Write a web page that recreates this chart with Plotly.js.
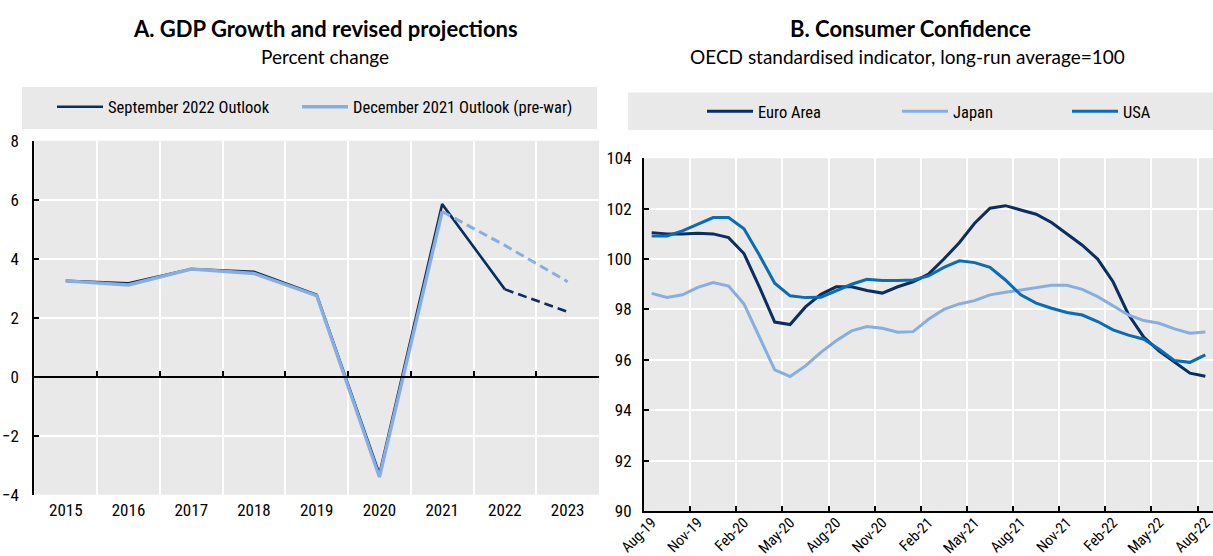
<!DOCTYPE html>
<html>
<head>
<meta charset="utf-8">
<script src="https://cdn.plot.ly/plotly-3.0.1.min.js"></script>
<style>
  html, body { margin: 0; padding: 0; background: #ffffff; }
  #chart { width: 1213px; height: 556px; }
</style>
</head>
<body>
<div id="chart"></div>
<script>
// ---------- Data: Panel A (GDP growth, percent change) ----------
const years = ['2015', '2016', '2017', '2018', '2019', '2020', '2021', '2022', '2023'];
const gdpSep2022 = [3.25, 3.17, 3.65, 3.56, 2.78, -3.3, 5.85, 2.96, 2.2];
const gdpDec2021 = [3.25, 3.11, 3.65, 3.5, 2.75, -3.4, 5.6, 4.45, 3.22];
const sep2022LastOutturn = '2022';
const dec2021LastOutturn = '2021';
const gdpSeriesNames = ['September 2022 Outlook', 'December 2021 Outlook (pre-war)'];

// ---------- Data: Panel B (Consumer confidence) ----------
const months = ['Aug-19','Sep-19','Oct-19','Nov-19','Dec-19','Jan-20','Feb-20','Mar-20','Apr-20','May-20',
  'Jun-20','Jul-20','Aug-20','Sep-20','Oct-20','Nov-20','Dec-20','Jan-21','Feb-21','Mar-21',
  'Apr-21','May-21','Jun-21','Jul-21','Aug-21','Sep-21','Oct-21','Nov-21','Dec-21','Jan-22',
  'Feb-22','Mar-22','Apr-22','May-22','Jun-22','Jul-22','Aug-22'];
const euroArea = [101.05, 101.0, 101.0, 101.02, 101.0, 100.85, 100.22, 98.9, 97.5, 97.4,
  98.1, 98.6, 98.9, 98.9, 98.75, 98.65, 98.9, 99.1, 99.4, 100.0,
  100.65, 101.42, 102.02, 102.12, 101.95, 101.78, 101.45, 101.0, 100.55, 100.0,
  99.1, 97.8, 96.9, 96.35, 95.9, 95.47, 95.35];
const japan = [98.64, 98.48, 98.58, 98.88, 99.07, 98.93, 98.22, 96.92, 95.6, 95.34,
  95.76, 96.3, 96.76, 97.15, 97.32, 97.25, 97.1, 97.12, 97.61, 98.0,
  98.22, 98.35, 98.58, 98.68, 98.78, 98.88, 98.96, 98.96, 98.8, 98.51,
  98.14, 97.78, 97.56, 97.45, 97.23, 97.06, 97.11];
const usa = [100.92, 100.92, 101.12, 101.39, 101.65, 101.65, 101.2, 100.16, 99.04, 98.54,
  98.47, 98.48, 98.74, 99.0, 99.2, 99.15, 99.15, 99.17, 99.33, 99.67,
  99.93, 99.86, 99.67, 99.17, 98.58, 98.25, 98.05, 97.88, 97.78, 97.52,
  97.19, 96.98, 96.82, 96.42, 95.97, 95.9, 96.2];
const confidenceNames = ['Euro Area', 'Japan', 'USA'];
const longRunAverage = 100;
const monthTickStep = 3;

// ---------- Styling ----------
const W = 1213, H = 556;
const px = v => v / W;            // x pixel -> paper
const py = v => 1 - v / H;        // y pixel -> paper
const DARK = '#0B2D62';
const LIGHT = '#88AEE0';
const MID = '#0A6CB5';
const BG = '#E9E9E9';
const NARROW = '"Liberation Sans Narrow", "Arial Narrow", "Roboto Condensed", Roboto, sans-serif';
const TITLEF = 'Lato, "Open Sans", sans-serif';
const tickFont = { family: NARROW, size: 17, color: '#000000' };

function solidPart(vals, cats, lastCat) {
  const k = cats.indexOf(lastCat);
  return vals.map((v, i) => (i <= k ? v : null));
}
function dashedPart(vals, cats, lastCat) {
  const k = cats.indexOf(lastCat);
  return vals.map((v, i) => (i >= k ? v : null));
}

const traces = [
  // Panel A
  { x: years, y: solidPart(gdpSep2022, years, sep2022LastOutturn), name: gdpSeriesNames[0],
    type: 'scatter', mode: 'lines', line: { color: DARK, width: 2.6 }, xaxis: 'x', yaxis: 'y',
    legend: 'legend', hoverinfo: 'skip' },
  { x: years, y: dashedPart(gdpSep2022, years, sep2022LastOutturn), name: gdpSeriesNames[0],
    type: 'scatter', mode: 'lines', line: { color: DARK, width: 2.6, dash: '9px,5px' }, xaxis: 'x', yaxis: 'y',
    showlegend: false, hoverinfo: 'skip' },
  { x: years, y: solidPart(gdpDec2021, years, dec2021LastOutturn), name: gdpSeriesNames[1],
    type: 'scatter', mode: 'lines', line: { color: LIGHT, width: 3.4 }, xaxis: 'x', yaxis: 'y',
    legend: 'legend2', hoverinfo: 'skip' },
  { x: years, y: dashedPart(gdpDec2021, years, dec2021LastOutturn), name: gdpSeriesNames[1],
    type: 'scatter', mode: 'lines', line: { color: LIGHT, width: 3.0, dash: '9px,5px' }, xaxis: 'x', yaxis: 'y',
    showlegend: false, hoverinfo: 'skip' },
  // invisible helper that carries the zero-line axis of panel A
  { x: years, y: gdpSep2022, type: 'scatter', mode: 'lines', opacity: 0, line: { width: 0 },
    xaxis: 'x3', yaxis: 'y', showlegend: false, hoverinfo: 'skip' },
  // Panel B
  { x: months, y: euroArea, name: confidenceNames[0], type: 'scatter', mode: 'lines',
    line: { color: DARK, width: 3 }, xaxis: 'x2', yaxis: 'y2', legend: 'legend3', hoverinfo: 'skip' },
  { x: months, y: japan, name: confidenceNames[1], type: 'scatter', mode: 'lines',
    line: { color: LIGHT, width: 3 }, xaxis: 'x2', yaxis: 'y2', legend: 'legend4', hoverinfo: 'skip' },
  { x: months, y: usa, name: confidenceNames[2], type: 'scatter', mode: 'lines',
    line: { color: MID, width: 3 }, xaxis: 'x2', yaxis: 'y2', legend: 'legend5', hoverinfo: 'skip' }
];

const legendBase = {
  orientation: 'h', bgcolor: 'rgba(0,0,0,0)', borderwidth: 0,
  font: { family: NARROW, size: 16.5, color: '#000000' },
  xanchor: 'left', yanchor: 'middle', itemwidth: 46, tracegroupgap: 0
};

const layout = {
  width: W, height: H,
  margin: { l: 0, r: 0, t: 0, b: 0, pad: 0 },
  paper_bgcolor: '#FFFFFF',
  plot_bgcolor: BG,
  showlegend: true,
  font: { family: NARROW, size: 17, color: '#000000' },
  xaxis: {
    domain: [px(34.4), px(599)], anchor: 'y', type: 'category',
    range: [-0.5, years.length - 0.5],
    tickson: 'boundaries', ticks: '', showline: false, zeroline: false,
    showgrid: true, gridcolor: '#FFFFFF', gridwidth: 2,
    tickfont: tickFont, ticklabelstandoff: 3, fixedrange: true
  },
  xaxis3: {
    overlaying: 'x', anchor: 'free', position: py(376.7), type: 'category',
    range: [-0.5, years.length - 0.5], tickson: 'boundaries',
    ticks: 'inside', ticklen: 5, tickwidth: 2, tickcolor: '#000000',
    showline: true, linecolor: '#000000', linewidth: 2,
    showticklabels: false, showgrid: false, zeroline: false, fixedrange: true
  },
  yaxis: {
    domain: [py(494.7), py(140.7)], anchor: 'x',
    range: [-4, 8], dtick: 2, tick0: 0,
    ticks: 'inside', ticklen: 5, tickwidth: 2, tickcolor: '#000000',
    showline: true, linecolor: '#000000', linewidth: 2,
    showgrid: true, gridcolor: '#FFFFFF', gridwidth: 2, zeroline: false,
    tickfont: tickFont, ticklabelstandoff: 10, fixedrange: true
  },
  xaxis2: {
    domain: [px(644), 1], anchor: 'y2', type: 'category',
    range: [-0.5, months.length - 0.5],
    tickmode: 'array',
    tickvals: months.filter((m, i) => i % monthTickStep === 0),
    ticktext: months.filter((m, i) => i % monthTickStep === 0),
    tickson: 'boundaries', ticks: 'inside', ticklen: 5, tickwidth: 2, tickcolor: '#000000',
    showline: true, linecolor: '#000000', linewidth: 2,
    showgrid: true, gridcolor: '#FFFFFF', gridwidth: 2, zeroline: false,
    tickangle: -45, tickfont: { family: NARROW, size: 15, color: '#000000' },
    ticklabelstandoff: -5, fixedrange: true
  },
  yaxis2: {
    domain: [py(511), py(158.3)], anchor: 'x2',
    range: [90, 104], dtick: 2, tick0: 90,
    ticks: 'inside', ticklen: 5, tickwidth: 2, tickcolor: '#000000',
    showline: true, linecolor: '#000000', linewidth: 2,
    showgrid: true, gridcolor: '#FFFFFF', gridwidth: 2, zeroline: false,
    tickfont: tickFont, ticklabelstandoff: 7, fixedrange: true
  },
  legend:  Object.assign({}, legendBase, { x: px(52),  y: py(107) }),
  legend2: Object.assign({}, legendBase, { x: px(297), y: py(107) }),
  legend3: Object.assign({}, legendBase, { x: px(702), y: py(111.5) }),
  legend4: Object.assign({}, legendBase, { x: px(897), y: py(111.5) }),
  legend5: Object.assign({}, legendBase, { x: px(1067), y: py(111.5) }),
  shapes: [
    { type: 'rect', xref: 'paper', yref: 'paper', x0: px(22), x1: px(597), y0: py(129), y1: py(87),
      fillcolor: BG, line: { width: 0 }, layer: 'below' },
    { type: 'rect', xref: 'paper', yref: 'paper', x0: px(628), x1: 1, y0: py(130), y1: py(92.5),
      fillcolor: BG, line: { width: 0 }, layer: 'below' },
    { type: 'line', xref: 'x2', yref: 'y2', x0: -0.5, x1: months.length - 1,
      y0: longRunAverage, y1: longRunAverage, line: { color: '#A6A6A6', width: 1.6 }, layer: 'below' }
  ],
  annotations: [
    { text: '<b>A. GDP Growth and revised projections</b>', xref: 'paper', yref: 'paper',
      x: px(325), y: py(28), xanchor: 'center', yanchor: 'middle', showarrow: false,
      font: { family: TITLEF, size: 22, color: '#000000' } },
    { text: 'Percent change', xref: 'paper', yref: 'paper',
      x: px(325), y: py(56), xanchor: 'center', yanchor: 'middle', showarrow: false,
      font: { family: TITLEF, size: 19, color: '#000000' } },
    { text: '<b>B. Consumer Confidence</b>', xref: 'paper', yref: 'paper',
      x: px(910), y: py(28), xanchor: 'center', yanchor: 'middle', showarrow: false,
      font: { family: TITLEF, size: 22, color: '#000000' } },
    { text: 'OECD standardised indicator, long-run average=100', xref: 'paper', yref: 'paper',
      x: px(907), y: py(56), xanchor: 'center', yanchor: 'middle', showarrow: false,
      font: { family: TITLEF, size: 19, color: '#000000' } }
  ]
};

Plotly.newPlot('chart', traces, layout, { staticPlot: true, displayModeBar: false });
</script>
</body>
</html>
